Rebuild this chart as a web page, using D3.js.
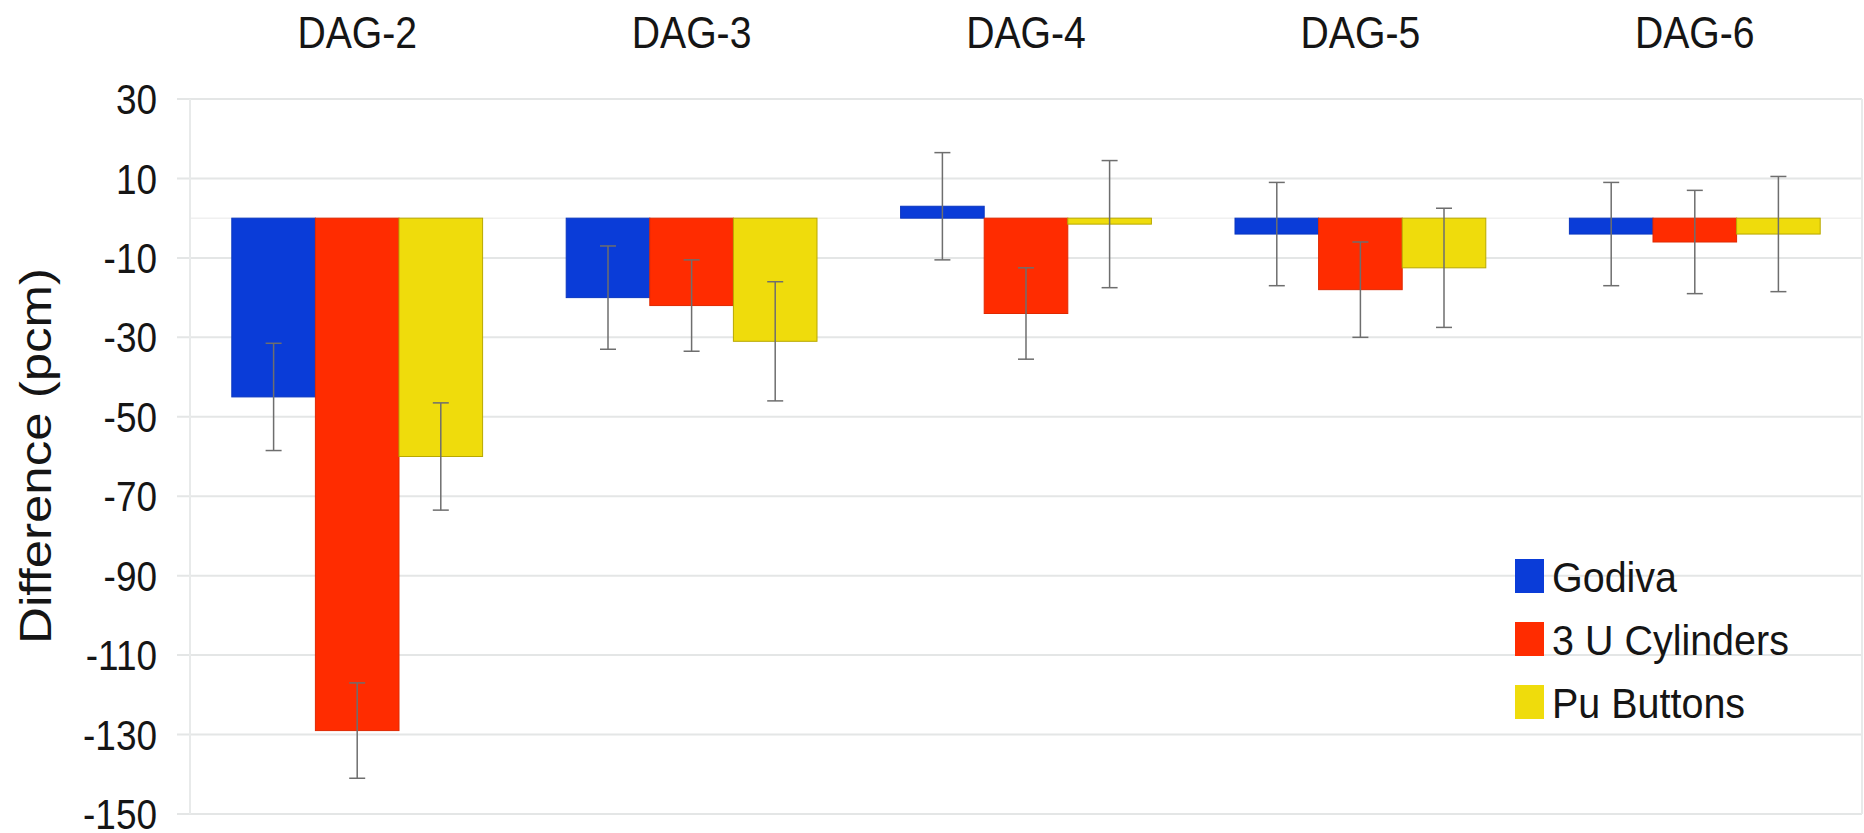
<!DOCTYPE html>
<html>
<head>
<meta charset="utf-8">
<script src="https://cdn.jsdelivr.net/npm/d3@7"></script>
<style>
  html, body { margin: 0; padding: 0; background: #fff; }
  svg { display: block; }
  text { font-family: "Liberation Sans", Arial, sans-serif; fill: #151515; }
</style>
</head>
<body>
<svg id="chart" width="1864" height="833"></svg>
<script>
// Benchmark groups and series
const categories = ["DAG-2", "DAG-3", "DAG-4", "DAG-5", "DAG-6"];
const seriesNames = ["Godiva", "3 U Cylinders", "Pu Buttons"];
const seriesColors = ["#0a3cd8", "#ff2c00", "#efdc0c"];
const seriesStroke = ["#0a36c0", "#e02800", "#b8a800"];

// Difference (pcm) per series, one value per benchmark group
const godiva = [-45, -20, 3, -4, -4];
const uCylinders = [-129, -22, -24, -18, -6];
const puButtons = [-60, -31, -1.5, -12.5, -4];

// Uncertainty (pcm, ±) per series
const godivaErr = [13.5, 13, 13.5, 13, 13];
const uCylindersErr = [12, 11.5, 11.5, 12, 13];
const puButtonsErr = [13.5, 15, 16, 15, 14.5];

const yTicks = [30, 10, -10, -30, -50, -70, -90, -110, -130, -150];
const yTitle = "Difference (pcm)";

const values = [godiva, uCylinders, puButtons];
const errors = [godivaErr, uCylindersErr, puButtonsErr];

const svg = d3.select("#chart");
const plotLeft = 190, plotRight = 1862, plotTop = 99, plotBottom = 814;
const squeeze = 0.88;

const x = d3.scaleBand().domain(categories).range([plotLeft, plotRight])
  .paddingInner(0.25).paddingOuter(0.125);
const xs = d3.scaleBand().domain(seriesNames).range([0, x.bandwidth()]).padding(0);
const y = d3.scaleLinear().domain([-150, 30]).range([plotBottom, plotTop]);

// Grid
const grid = svg.append("g");
grid.selectAll("line.h").data(yTicks).join("line")
  .attr("x1", plotLeft - 13).attr("x2", plotRight)
  .attr("y1", d => y(d)).attr("y2", d => y(d))
  .attr("stroke", "#e4e6e6").attr("stroke-width", 2);
grid.append("line")
  .attr("x1", plotLeft).attr("x2", plotRight).attr("y1", y(0)).attr("y2", y(0))
  .attr("stroke", "#f0f0f0").attr("stroke-width", 1.5);
[plotLeft, plotRight].forEach(xv => grid.append("line")
  .attr("x1", xv).attr("x2", xv).attr("y1", y(30)).attr("y2", y(-150))
  .attr("stroke", "#e8eaea").attr("stroke-width", 2));

// Y tick labels
const yAxis = svg.append("g");
yTicks.forEach(t => {
  yAxis.append("text")
    .attr("transform", `translate(157,${y(t)}) scale(${squeeze},1)`)
    .attr("text-anchor", "end").attr("dy", "0.36em")
    .style("font-size", "42px").text(t);
});

// Y axis title
svg.append("text")
  .attr("transform", `translate(51,456) scale(${squeeze},1) rotate(-90)`)
  .attr("text-anchor", "middle")
  .style("font-size", "51px").text(yTitle);

// Category labels along the top
categories.forEach(c => {
  svg.append("text")
    .attr("transform", `translate(${x(c) + x.bandwidth() / 2},48) scale(0.89,1)`)
    .attr("text-anchor", "middle")
    .style("font-size", "44px").text(c);
});

// Bars
const groups = svg.append("g").selectAll("g").data(categories).join("g")
  .attr("transform", c => `translate(${x(c)},0)`);

seriesNames.forEach((s, si) => {
  groups.append("rect")
    .attr("x", xs(s))
    .attr("width", xs.bandwidth())
    .attr("y", (c, ci) => y(Math.max(0, values[si][ci])))
    .attr("height", (c, ci) => Math.abs(y(values[si][ci]) - y(0)))
    .attr("fill", seriesColors[si])
    .attr("stroke", seriesStroke[si]).attr("stroke-width", 1);
});

// Error bars
seriesNames.forEach((s, si) => {
  groups.each(function (c, ci) {
    const g = d3.select(this);
    const cx = xs(s) + xs.bandwidth() / 2;
    const v = values[si][ci], e = errors[si][ci];
    const col = "#6e6e6e";
    g.append("line").attr("x1", cx).attr("x2", cx)
      .attr("y1", y(v + e)).attr("y2", y(v - e))
      .attr("stroke", col).attr("stroke-width", 1.5);
    [v + e, v - e].forEach(w => g.append("line")
      .attr("x1", cx - 8).attr("x2", cx + 8)
      .attr("y1", y(w)).attr("y2", y(w))
      .attr("stroke", col).attr("stroke-width", 1.5));
  });
});

// Legend
const legend = svg.append("g");
seriesNames.forEach((s, si) => {
  const base = 592 + si * 63;
  legend.append("rect")
    .attr("x", 1515).attr("y", base - 33).attr("width", 29).attr("height", 34)
    .attr("fill", seriesColors[si]);
  legend.append("text")
    .attr("transform", `translate(1552,${base}) scale(0.94,1)`)
    .style("font-size", "42px").text(s);
});
</script>
</body>
</html>
